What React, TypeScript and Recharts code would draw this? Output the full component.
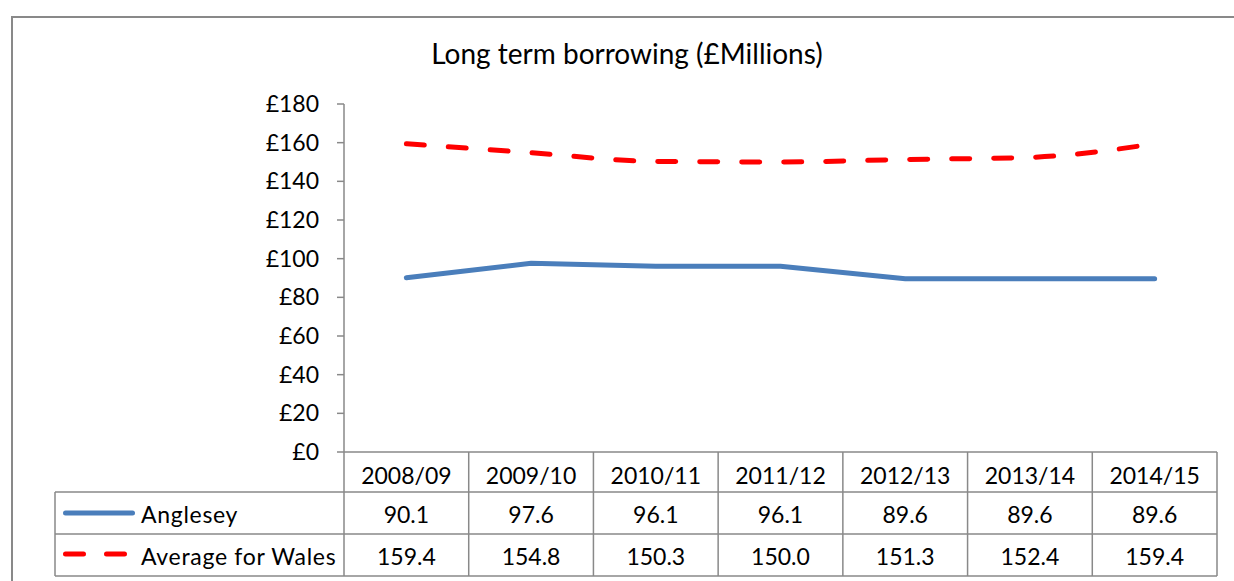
import React from 'react';
import { LineChart, Line, XAxis, YAxis } from 'recharts';

const categories = ['2008/09', '2009/10', '2010/11', '2011/12', '2012/13', '2013/14', '2014/15'];
const angleseyValues = [90.1, 97.6, 96.1, 96.1, 89.6, 89.6, 89.6];
const walesValues = [159.4, 154.8, 150.3, 150.0, 151.3, 152.4, 159.4];
const seriesNames = ['Anglesey', 'Average for Wales'];
const yTicks = [0, 20, 40, 60, 80, 100, 120, 140, 160, 180];
const titleText = 'Long term borrowing (£Millions)';

const data = categories.map((c, i) => ({ cat: c, anglesey: angleseyValues[i], wales: walesValues[i] }));

const W = 1234;
const H = 581;
const PLOT_LEFT = 344;
const PLOT_RIGHT = 1217;
const PLOT_TOP = 104;
const PLOT_BOTTOM = 452;
const COL_HALF = (PLOT_RIGHT - PLOT_LEFT) / categories.length / 2;
const ROW1 = 492;
const ROW2 = 534;
const ROW3 = 576;
const LEGEND_LEFT = 55;
const GRID = '#898989';
const FONT = 'Lato, "Open Sans", sans-serif';
const FS = 23;
const BLUE = '#4a7ebb';
const RED = '#ff0000';

function TableTick(props: any) {
  const { x, payload, index } = props;
  const i = typeof index === 'number' ? index : payload.index;
  const left = x - COL_HALF;
  const right = x + COL_HALF;
  const txt = { fontFamily: FONT, fontSize: FS, fill: '#000', textAnchor: 'middle' as const };
  return (
    <g>
      {i === 0 && (
        <g>
          <line x1={LEGEND_LEFT} y1={ROW1} x2={PLOT_RIGHT} y2={ROW1} stroke={GRID} strokeWidth={1.5} />
          <line x1={LEGEND_LEFT} y1={ROW2} x2={PLOT_RIGHT} y2={ROW2} stroke={GRID} strokeWidth={1.5} />
          <line x1={LEGEND_LEFT} y1={ROW3} x2={PLOT_RIGHT} y2={ROW3} stroke={GRID} strokeWidth={1.5} />
          <line x1={LEGEND_LEFT} y1={ROW1} x2={LEGEND_LEFT} y2={ROW3} stroke={GRID} strokeWidth={1.5} />
          <line x1={left} y1={PLOT_BOTTOM} x2={left} y2={ROW3} stroke={GRID} strokeWidth={1.5} />
          <line x1={65.5} y1={513} x2={132.5} y2={513} stroke={BLUE} strokeWidth={5} strokeLinecap="round" />
          <line x1={65.5} y1={554} x2={124.5} y2={554} stroke={RED} strokeWidth={5} strokeLinecap="round" strokeDasharray="18 23" />
          <text x={141} y={523} fontFamily={FONT} fontSize={FS} letterSpacing={0.7} fill="#000">{seriesNames[0]}</text>
          <text x={141} y={565} fontFamily={FONT} fontSize={FS} letterSpacing={0.7} fill="#000">{seriesNames[1]}</text>
        </g>
      )}
      <line x1={right} y1={PLOT_BOTTOM} x2={right} y2={ROW3} stroke={GRID} strokeWidth={1.5} />
      <text x={x} y={484} {...txt}>{payload.value}</text>
      <text x={x} y={523} {...txt}>{angleseyValues[i].toFixed(1)}</text>
      <text x={x} y={565} {...txt}>{walesValues[i].toFixed(1)}</text>
    </g>
  );
}

export default function App() {
  return (
    <div style={{ position: 'relative', width: W, height: H, overflow: 'hidden', background: '#fff' }}>
      <style>{`body{margin:0}`}</style>
      <div
        style={{
          position: 'absolute',
          left: 11,
          top: 16,
          width: 1400,
          height: 800,
          borderLeft: `2px solid ${GRID}`,
          borderTop: `2px solid ${GRID}`,
          boxSizing: 'border-box',
        }}
      />
      <svg style={{ position: 'absolute', left: 0, top: 0 }} width={W} height={H}>
        <text x={627} y={64} textAnchor="middle" fontFamily={FONT} fontSize={28} fill="#000">
          {titleText}
        </text>
      </svg>
      <div style={{ position: 'absolute', left: 0, top: 0 }}>
        <LineChart width={W} height={H} data={data} margin={{ top: PLOT_TOP, right: W - PLOT_RIGHT, bottom: 0, left: 0 }}>
          <YAxis
            width={PLOT_LEFT}
            domain={[0, 180]}
            ticks={yTicks}
            interval={0}
            tickFormatter={(v: number) => `£${v}`}
            axisLine={{ stroke: GRID, strokeWidth: 1.5 }}
            tickLine={{ stroke: GRID, strokeWidth: 1.5 }}
            tickSize={7}
            tickMargin={18}
            tick={{ fontFamily: FONT, fontSize: FS, fill: '#000' }}
          />
          <XAxis
            dataKey="cat"
            height={H - PLOT_BOTTOM}
            padding={{ left: COL_HALF, right: COL_HALF }}
            interval={0}
            tickSize={0}
            tickMargin={0}
            tickLine={false}
            axisLine={{ stroke: GRID, strokeWidth: 1.5 }}
            tick={<TableTick />}
          />
          <Line
            dataKey="anglesey"
            type="linear"
            stroke={BLUE}
            strokeWidth={5}
            strokeLinecap="round"
            dot={false}
            activeDot={false}
            isAnimationActive={false}
          />
          <Line
            dataKey="wales"
            type="monotone"
            stroke={RED}
            strokeWidth={5}
            strokeLinecap="round"
            strokeDasharray="18 24"
            dot={false}
            activeDot={false}
            isAnimationActive={false}
          />
        </LineChart>
      </div>
    </div>
  );
}
